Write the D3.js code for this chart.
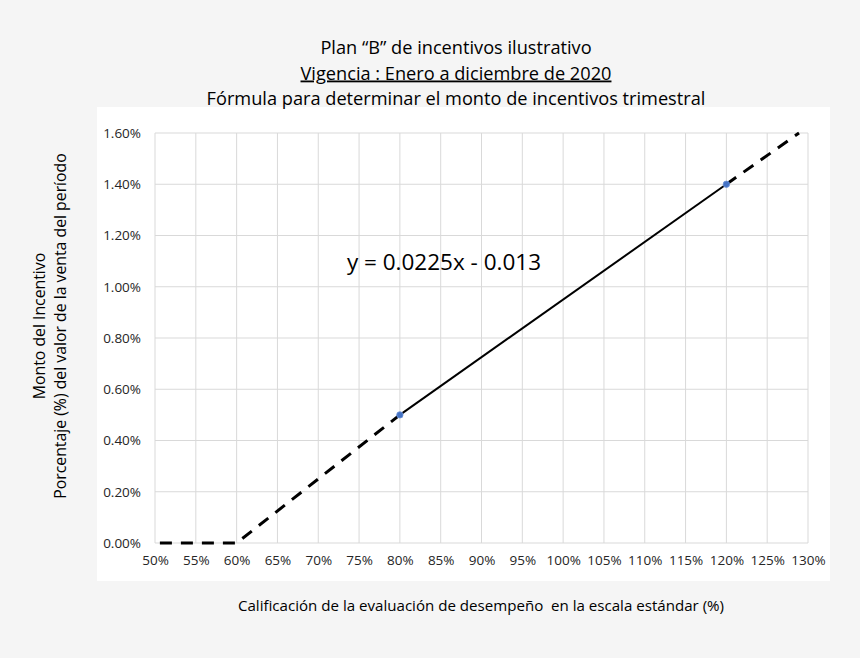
<!DOCTYPE html>
<html>
<head>
<meta charset="utf-8">
<script src="https://cdn.jsdelivr.net/npm/d3@7"></script>
<style>
  html, body { margin: 0; padding: 0; background: #f5f5f5; }
  svg { display: block; font-family: "Open Sans", sans-serif; }
</style>
</head>
<body>
<div id="chart"></div>
<script>
// data
const xTicks = [50, 55, 60, 65, 70, 75, 80, 85, 90, 95, 100, 105, 110, 115, 120, 125, 130];
const yTicks = [0, 0.2, 0.4, 0.6, 0.8, 1.0, 1.2, 1.4, 1.6];
const lowX = [50.6, 60, 80];       // dashed, flat then rising
const lowY = [0, 0, 0.5];
const midX = [80, 120];            // solid segment
const midY = [0.5, 1.4];
const highX = [120, 128.9];        // dashed continuation
const highY = [1.4, 1.6];
const pointX = [80, 120];
const pointY = [0.5, 1.4];
const titleLines = ['Plan \u201cB\u201d de incentivos ilustrativo', 'Vigencia : Enero a diciembre de 2020', 'F\u00f3rmula para determinar el monto de incentivos trimestral'];
const yTitle = ['Monto del Incentivo', 'Porcentaje (%) del valor de la venta del per\u00edodo'];
const xTitle = 'Calificaci\u00f3n de la evaluaci\u00f3n de desempe\u00f1o  en la escala est\u00e1ndar (%)';
const equation = 'y = 0.0225x - 0.013';

const width = 860, height = 658;
const margin = { top: 133, right: 52, bottom: 115, left: 155 };

const svg = d3.select('#chart').append('svg')
  .attr('width', width)
  .attr('height', height);

svg.append('rect')
  .attr('width', width).attr('height', height)
  .attr('fill', '#f5f5f5');

// white chart area
svg.append('rect')
  .attr('x', 97).attr('y', 107)
  .attr('width', 733).attr('height', 474)
  .attr('fill', '#ffffff');

let x = d3.scaleLinear()
  .domain([50, 130])
  .range([margin.left, width - margin.right]);

let y = d3.scaleLinear()
  .domain([0, 1.6])
  .range([height - margin.bottom, margin.top]);

// gridlines
svg.append('g')
  .selectAll('line')
  .data(xTicks)
  .enter().append('line')
  .attr('x1', d => x(d)).attr('x2', d => x(d))
  .attr('y1', y(1.6)).attr('y2', y(0))
  .attr('stroke', '#d9d9d9')
  .attr('stroke-width', 1);

svg.append('g')
  .selectAll('line')
  .data(yTicks)
  .enter().append('line')
  .attr('x1', x(50)).attr('x2', x(130))
  .attr('y1', d => y(d)).attr('y2', d => y(d))
  .attr('stroke', '#d9d9d9')
  .attr('stroke-width', 1);

// axes (labels only)
let xAxis = d3.axisBottom(x).tickValues(xTicks).tickSize(0).tickPadding(12)
  .tickFormat(d => d + '%');
let yAxis = d3.axisLeft(y).tickValues(yTicks).tickSize(0).tickPadding(14)
  .tickFormat(d => d3.format('.2f')(d) + '%');

let gx = svg.append('g')
  .attr('transform', `translate(0,${y(0)})`)
  .call(xAxis);
let gy = svg.append('g')
  .attr('transform', `translate(${x(50)},0)`)
  .call(yAxis);
[gx, gy].forEach(g => {
  g.select('.domain').remove();
  g.selectAll('text')
    .attr('fill', '#262626')
    .style('font-family', '"Open Sans", sans-serif')
    .style('font-size', '13.5px');
});

// lines
let line = d3.line().x(d => x(d[0])).y(d => y(d[1]));
const zip = (a, b) => a.map((v, i) => [v, b[i]]);

svg.append('path')
  .datum(zip(lowX, lowY))
  .attr('d', line)
  .attr('fill', 'none')
  .attr('stroke', '#000')
  .attr('stroke-width', 3)
  .attr('stroke-dasharray', '12,9');

svg.append('path')
  .datum(zip(midX, midY))
  .attr('d', line)
  .attr('fill', 'none')
  .attr('stroke', '#000')
  .attr('stroke-width', 2);

svg.append('path')
  .datum(zip(highX, highY))
  .attr('d', line)
  .attr('fill', 'none')
  .attr('stroke', '#000')
  .attr('stroke-width', 3)
  .attr('stroke-dasharray', '12,9');

svg.append('g')
  .selectAll('circle')
  .data(zip(pointX, pointY))
  .enter().append('circle')
  .attr('cx', d => x(d[0]))
  .attr('cy', d => y(d[1]))
  .attr('r', 3.2)
  .attr('fill', '#4472c4')
  .attr('stroke', '#6f94d8')
  .attr('stroke-width', 0.8);

// trendline equation
svg.append('text')
  .attr('x', x(85.4))
  .attr('y', y(1.096))
  .attr('dy', '0.35em')
  .attr('text-anchor', 'middle')
  .attr('fill', '#000')
  .style('font-size', '22.5px')
  .text(equation);

// titles
svg.append('g')
  .selectAll('text')
  .data(titleLines)
  .enter().append('text')
  .attr('x', 456)
  .attr('y', (d, i) => 54 + i * 25.5)
  .attr('text-anchor', 'middle')
  .attr('fill', '#000')
  .attr('text-decoration', (d, i) => i === 1 ? 'underline' : null)
  .style('font-size', '18.2px')
  .text(d => d);

svg.append('g')
  .attr('transform', 'translate(0,326) rotate(-90)')
  .selectAll('text')
  .data(yTitle)
  .enter().append('text')
  .attr('x', 0)
  .attr('y', (d, i) => 45 + i * 21)
  .attr('text-anchor', 'middle')
  .attr('fill', '#000')
  .style('font-size', '15.8px')
  .text(d => d);

svg.append('text')
  .attr('x', 481)
  .attr('y', 611)
  .attr('text-anchor', 'middle')
  .attr('fill', '#000')
  .style('font-size', '15.1px')
  .style('white-space', 'pre')
  .text(xTitle);
</script>
</body>
</html>
